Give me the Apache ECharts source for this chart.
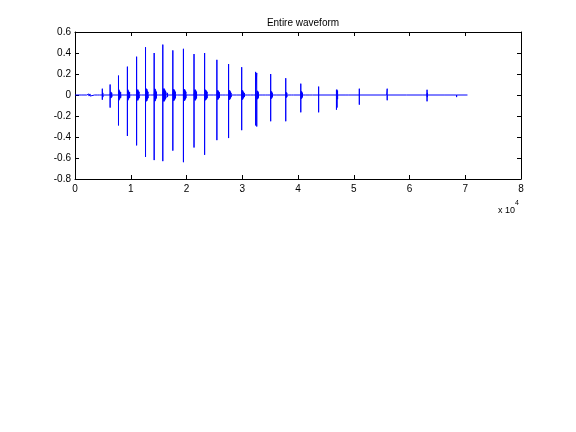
<!DOCTYPE html>
<html>
<head>
<meta charset="utf-8">
<script src="https://cdn.jsdelivr.net/npm/echarts@6/dist/echarts.min.js"></script>
<style>html,body{margin:0;padding:0;background:#fff}#c{width:576px;height:432px}</style>
</head>
<body>
<div id="c"></div>
<script>
// x positions are in units of 10^4 samples
var titleText = 'Entire waveform';
var xTicks = [0, 1, 2, 3, 4, 5, 6, 7, 8];
var yTicks = [-0.8, -0.6, -0.4, -0.2, 0, 0.2, 0.4, 0.6];
var waveStart = 0.0;
var waveEnd = 7.04;
var spikeX   = [0.49, 0.63, 0.78, 0.94, 1.105, 1.265, 1.42, 1.575, 1.755, 1.945, 2.135, 2.325, 2.545, 2.755, 2.99, 3.24, 3.26, 3.51, 3.78, 4.05, 4.37, 4.69, 4.70, 5.10, 5.60, 6.315, 6.845];
var spikeMax = [0.06, 0.10, 0.185, 0.27, 0.365, 0.455, 0.40, 0.48, 0.425, 0.44, 0.39, 0.40, 0.335, 0.295, 0.265, 0.22, 0.21, 0.20, 0.16, 0.108, 0.08, 0.05, 0.05, 0.06, 0.06, 0.05, 0.013];
var spikeMin = [-0.045, -0.12, -0.29, -0.39, -0.48, -0.59, -0.62, -0.63, -0.53, -0.64, -0.50, -0.57, -0.43, -0.41, -0.335, -0.29, -0.30, -0.25, -0.25, -0.165, -0.165, -0.14, -0.12, -0.092, -0.05, -0.06, -0.02];
// small bursts: [x, amplitude]
var bursts = [
 [0.11,0.005],[0.21,0.01],[0.22,0.012],[0.24,0.012],[0.25,0.01],[0.27,0.01],[0.30,0.008],[0.35,0.006],[0.40,0.006],[0.44,0.008],[0.50,0.02],[0.51,0.015],
 [0.64,0.03],[0.65,0.025],[0.66,0.02],[0.68,0.012],
 [0.79,0.05],[0.80,0.04],[0.81,0.03],[0.82,0.025],[0.85,0.012],
 [0.95,0.05],[0.96,0.04],[0.97,0.03],[0.98,0.025],[1.01,0.012],[1.03,0.008],
 [1.12,0.05],[1.13,0.05],[1.14,0.035],[1.15,0.03],[1.19,0.012],
 [1.28,0.06],[1.29,0.055],[1.30,0.04],[1.31,0.03],[1.35,0.015],
 [1.43,0.06],[1.44,0.055],[1.45,0.04],[1.46,0.03],[1.50,0.015],
 [1.59,0.06],[1.60,0.06],[1.61,0.05],[1.62,0.04],[1.63,0.03],[1.66,0.02],[1.70,0.01],
 [1.77,0.055],[1.78,0.05],[1.79,0.04],[1.80,0.03],[1.84,0.015],
 [1.96,0.055],[1.97,0.05],[1.98,0.04],[1.99,0.03],[2.03,0.015],[2.08,0.008],
 [2.15,0.05],[2.16,0.05],[2.17,0.04],[2.18,0.03],[2.22,0.015],[2.28,0.008],
 [2.34,0.05],[2.35,0.045],[2.36,0.035],[2.37,0.03],[2.42,0.015],[2.48,0.008],
 [2.56,0.045],[2.57,0.04],[2.58,0.03],[2.59,0.025],[2.64,0.015],[2.70,0.008],
 [2.77,0.045],[2.78,0.04],[2.79,0.03],[2.80,0.02],[2.85,0.012],[2.90,0.008],
 [3.00,0.045],[3.01,0.04],[3.02,0.03],[3.04,0.02],[3.10,0.01],[3.15,0.008],[3.20,0.008],
 [3.27,0.04],[3.28,0.035],[3.29,0.025],[3.32,0.015],[3.37,0.01],[3.42,0.008],[3.46,0.01],
 [3.52,0.035],[3.53,0.03],[3.54,0.02],[3.57,0.012],[3.62,0.006],
 [3.79,0.025],[3.80,0.02],[3.88,0.01],[3.92,0.008],
 [4.06,0.035],[4.07,0.03],[4.08,0.02],[4.09,0.015],[4.14,0.01],[4.20,0.006],[4.26,0.006],
 [4.38,0.015],[4.39,0.012],[4.71,0.04],[4.72,0.015],[4.86,0.008],[4.90,0.008],
 [5.11,0.01],[5.12,0.008],[5.59,0.012],[5.61,0.01],[5.95,0.006],[6.24,0.01],[6.32,0.02],[6.33,0.015],[6.62,0.006],[6.85,0.008],[6.86,0.006]
];

// build the line path from the arrays
var events = [];
for (var i = 0; i < spikeX.length; i++) events.push([spikeX[i], spikeMax[i], spikeMin[i]]);
for (var j = 0; j < bursts.length; j++) events.push([bursts[j][0], bursts[j][1], -bursts[j][1]]);
events.sort(function (a, b) { return a[0] - b[0]; });
var lineData = [[waveStart, 0]];
events.forEach(function (e) {
  lineData.push([e[0], 0], [e[0], e[1]], [e[0], e[2]], [e[0], 0]);
});
lineData.push([waveEnd, 0]);

var font = 'Liberation Sans, Arial, Helvetica, sans-serif';
var chart = echarts.init(document.getElementById('c'), null, {renderer: 'canvas'});
var axisCommon = {
  axisLine: {show: true, onZero: false, lineStyle: {color: '#000', width: 1}},
  axisTick: {show: true, inside: true, length: 4, lineStyle: {color: '#000'}},
  splitLine: {show: false}
};
chart.setOption({
  animation: false,
  backgroundColor: '#fff',
  title: {
    text: titleText, left: 298, top: 13, textAlign: 'center',
    textStyle: {fontFamily: font, fontSize: 10, fontWeight: 'normal', color: '#000'}
  },
  grid: {left: 75, top: 32, width: 446, height: 147, containLabel: false},
  xAxis: [
    Object.assign({type: 'value', min: 0, max: 8, interval: 1, position: 'bottom',
      axisLabel: {fontFamily: font, fontSize: 10, color: '#000', margin: 5,
        formatter: function (v) { return String(v); }}}, axisCommon),
    Object.assign({type: 'value', min: 0, max: 8, interval: 1, position: 'top',
      axisLabel: {show: false}}, axisCommon)
  ],
  yAxis: [
    Object.assign({type: 'value', min: -0.8, max: 0.6, interval: 0.2, position: 'left',
      axisLabel: {fontFamily: font, fontSize: 10, color: '#000', margin: 4,
        formatter: function (v) { return Math.abs(v) < 1e-9 ? '0' : (Math.round(v * 10) / 10).toFixed(1); }}}, axisCommon),
    Object.assign({type: 'value', min: -0.8, max: 0.6, interval: 0.2, position: 'right',
      axisLabel: {show: false}}, axisCommon)
  ],
  series: [{
    type: 'line', data: lineData, xAxisIndex: 0, yAxisIndex: 0,
    showSymbol: false, symbol: 'none', clip: true,
    lineStyle: {color: '#0000ff', width: 1}
  }],
  graphic: [{
    type: 'text', left: 498, top: 200,
    style: {
      text: '{a|x 10}{b|4}',
      rich: {
        a: {fontFamily: font, fontSize: 9, fill: '#000', verticalAlign: 'bottom', padding: [6, 0, 0, 0]},
        b: {fontFamily: font, fontSize: 7, fill: '#000', verticalAlign: 'top', padding: [0, 0, 6, 0]}
      }
    }
  }]
});
</script>
</body>
</html>
